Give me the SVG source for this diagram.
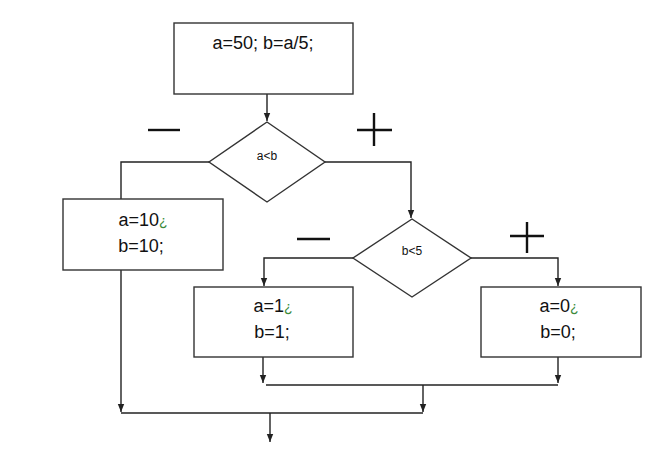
<svg xmlns="http://www.w3.org/2000/svg" width="659" height="457" viewBox="0 0 659 457">
<style>
.shape{fill:#fff;stroke:#333;stroke-width:1.4}
.ln{fill:none;stroke:#222;stroke-width:1.4}
.sg{fill:none;stroke:#111;stroke-width:2.4}
.t{font-family:"Liberation Sans",Arial,sans-serif;font-size:18px;fill:#111;text-anchor:middle}
.d{font-family:"Liberation Sans",Arial,sans-serif;font-size:12px;fill:#111;text-anchor:middle}
.g{fill:#3a8a3a;font-size:14px}
</style>
<defs>
<marker id="ar" viewBox="0 0 8 8" refX="8" refY="4" markerWidth="8" markerHeight="8" markerUnits="userSpaceOnUse" orient="auto">
<path d="M0,0.8 L8,4 L0,7.2 Z" fill="#222"/>
</marker>
</defs>
<rect width="659" height="457" fill="#fff"/>
<g id="connectors">
<path class="ln" d="M267,94 V121" marker-end="url(#ar)"/>
<path class="ln" d="M209,162 H121 V199"/>
<path class="ln" d="M325,162 H411 V218" marker-end="url(#ar)"/>
<path class="ln" d="M353,258 H264 V286" marker-end="url(#ar)"/>
<path class="ln" d="M471,258 H558 V286" marker-end="url(#ar)"/>
<path class="ln" d="M263,357 V383" marker-end="url(#ar)"/>
<path class="ln" d="M558,357 V383" marker-end="url(#ar)"/>
<path class="ln" d="M266,385 H558"/>
<path class="ln" d="M423,385 V412" marker-end="url(#ar)"/>
<path class="ln" d="M121,270 V412" marker-end="url(#ar)"/>
<path class="ln" d="M121,413 H423"/>
<path class="ln" d="M270,413 V442" marker-end="url(#ar)"/>
</g>
<g id="signs">
<path class="sg" d="M148,130 H180"/>
<path class="sg" d="M357,130 H392 M374,113 V146"/>
<path class="sg" d="M297,239 H330"/>
<path class="sg" d="M510,236 H544 M527,222 V253"/>
</g>
<g id="start">
<rect class="shape" x="174" y="23" width="179" height="71"/>
<text class="t" x="263" y="49">a=50; b=a/5;</text>
</g>
<g id="cond1">
<polygon class="shape" points="267,122 325,162 267,202 209,162"/>
<text class="d" x="267" y="160">a&lt;b</text>
</g>
<g id="box-left">
<rect class="shape" x="63" y="199" width="160" height="71"/>
<text class="t" x="143" y="226">a=10<tspan class="g">¿</tspan></text>
<text class="t" x="141" y="252">b=10;</text>
</g>
<g id="cond2">
<polygon class="shape" points="412,219 471,258 412,297 353,258"/>
<text class="d" x="412" y="255">b&lt;5</text>
</g>
<g id="box-mid">
<rect class="shape" x="194" y="287" width="159" height="70"/>
<text class="t" x="273" y="312">a=1<tspan class="g">¿</tspan></text>
<text class="t" x="272" y="338">b=1;</text>
</g>
<g id="box-right">
<rect class="shape" x="481" y="287" width="160" height="70"/>
<text class="t" x="559" y="312">a=0<tspan class="g">¿</tspan></text>
<text class="t" x="558" y="338">b=0;</text>
</g>
</svg>
